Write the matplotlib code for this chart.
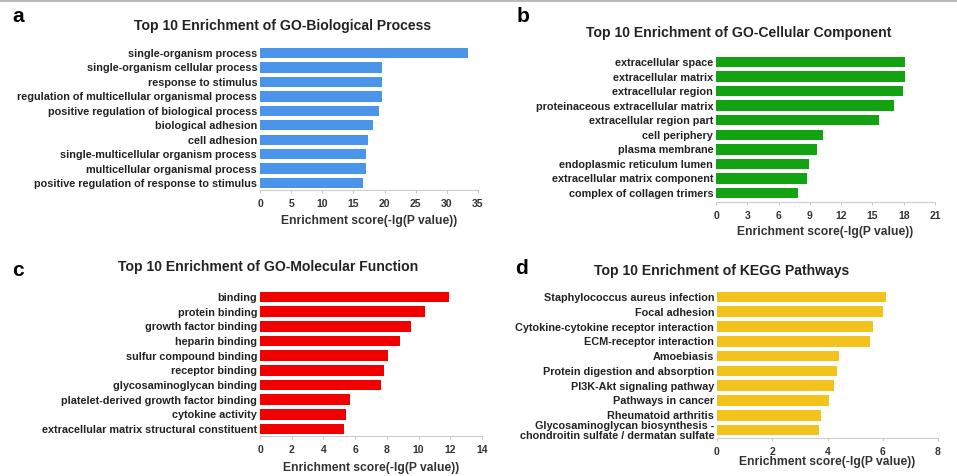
import matplotlib.pyplot as plt
from matplotlib.lines import Line2D

plt.rcParams['font.family'] = ['Liberation Sans', 'DejaVu Sans']

W, H = 957, 476

bp_terms = ['single-organism process', 'single-organism cellular process',
            'response to stimulus', 'regulation of multicellular organismal process',
            'positive regulation of biological process', 'biological adhesion',
            'cell adhesion', 'single-multicellular organism process',
            'multicellular organismal process', 'positive regulation of response to stimulus']
bp_scores = [33.4, 19.6, 19.6, 19.6, 19.1, 18.1, 17.3, 17.0, 17.0, 16.6]

cc_terms = ['extracellular space', 'extracellular matrix', 'extracellular region',
            'proteinaceous extracellular matrix', 'extracellular region part',
            'cell periphery', 'plasma membrane', 'endoplasmic reticulum lumen',
            'extracellular matrix component', 'complex of collagen trimers']
cc_scores = [18.1, 18.1, 17.9, 17.1, 15.6, 10.3, 9.7, 8.9, 8.7, 7.9]

mf_terms = ['binding', 'protein binding', 'growth factor binding', 'heparin binding',
            'sulfur compound binding', 'receptor binding', 'glycosaminoglycan binding',
            'platelet-derived growth factor binding', 'cytokine activity',
            'extracellular matrix structural constituent']
mf_scores = [11.9, 10.4, 9.5, 8.8, 8.1, 7.8, 7.6, 5.7, 5.4, 5.3]

kegg_terms = ['Staphylococcus aureus infection', 'Focal adhesion',
              'Cytokine-cytokine receptor interaction', 'ECM-receptor interaction',
              'Amoebiasis', 'Protein digestion and absorption', 'PI3K-Akt signaling pathway',
              'Pathways in cancer', 'Rheumatoid arthritis',
              'Glycosaminoglycan biosynthesis -\nchondroitin sulfate / dermatan sulfate']
kegg_scores = [6.1, 6.0, 5.65, 5.55, 4.4, 4.35, 4.25, 4.05, 3.75, 3.7]

panels = [
    # letter, title, terms, scores, color, xmax, step, box px (x0, x1, ytop, ybot, ylo), title pos, letter pos
    ('a', 'Top 10 Enrichment of GO-Biological Process', bp_terms, bp_scores, '#4a94ea',
     35, 5, (260, 478, 45.8, 190, 9.48), (283, 26), (18, 17), 221),
    ('b', 'Top 10 Enrichment of GO-Cellular Component', cc_terms, cc_scores, '#12a212',
     21, 3, (716, 935, 54.7, 202, 9.62), (739, 33), (523, 17), 232),
    ('c', 'Top 10 Enrichment of GO-Molecular Function', mf_terms, mf_scores, '#f20000',
     14, 2, (260, 482, 289.7, 436, 9.48), (268, 267), (18, 270), 468),
    ('d', 'Top 10 Enrichment of KEGG Pathways', kegg_terms, kegg_scores, '#f3c21c',
     8, 2, (717, 938, 289.6, 438, 9.54), (722, 271), (522, 269), 462),
]

fig = plt.figure(figsize=(W / 100, H / 100), dpi=100)

for letter, title, terms, scores, color, xmax, step, box, tpos, lpos, xly in panels:
    x0, x1, yt, yb, ylo = box
    ax = fig.add_axes([x0 / W, 1 - yb / H, (x1 - x0) / W, (yb - yt) / H])
    ypos = list(range(len(terms)))
    ax.barh(ypos, scores, height=0.72, color=color)
    ax.set_xlim(0, xmax)
    ax.set_ylim(ylo, -0.5)
    ax.set_xticks(range(0, xmax + 1, step))
    ax.set_yticks(ypos)
    ax.set_yticklabels(terms, fontsize=7.8, fontweight='bold', color='#222222',
                       linespacing=1.0)
    ax.tick_params(axis='y', length=0, pad=2)
    ax.tick_params(axis='x', length=2.5, width=0.6, color='#bbbbbb',
                   labelsize=7.5, labelcolor='#333333', pad=4)
    for lab in ax.get_xticklabels():
        lab.set_fontweight('bold')
    for s in ['top', 'right', 'left']:
        ax.spines[s].set_visible(False)
    ax.spines['bottom'].set_color('#cccccc')
    ax.spines['bottom'].set_linewidth(0.8)
    fig.text((x0 + x1) / 2 / W + 0.0, 1 - xly / H, 'Enrichment score(-lg(P value))',
             ha='center', va='center', fontsize=8.7, fontweight='bold', color='#333333')
    fig.text(tpos[0] / W, 1 - tpos[1] / H, title, ha='center', va='center',
             fontsize=10.1, fontweight='bold', color='#222222')
    fig.text(lpos[0] / W, 1 - lpos[1] / H, letter, ha='center', va='center',
             fontsize=15, fontweight='bold', color='black')

fig.add_artist(Line2D([0, 1], [0.998, 0.998], color='#bbbbbb', lw=1.5,
                      transform=fig.transFigure))

fig.savefig('out.png', dpi=100)
